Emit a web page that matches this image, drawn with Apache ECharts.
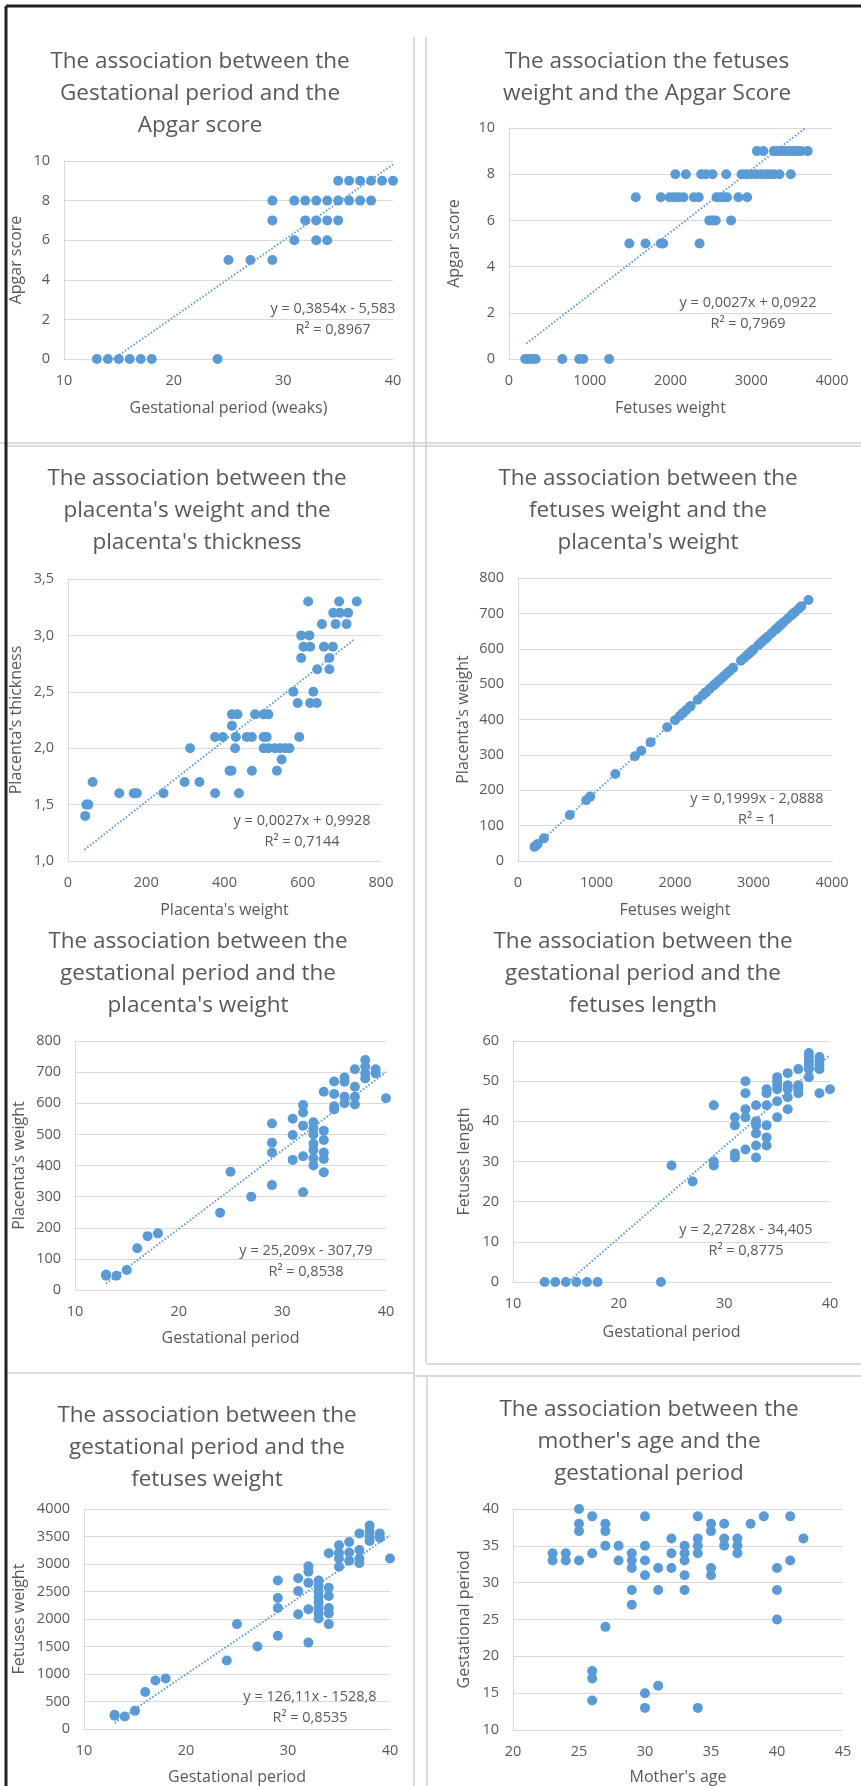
<!DOCTYPE html>
<html>
<head>
<meta charset="utf-8">
<script src="https://cdn.jsdelivr.net/npm/echarts@6.0.0/dist/echarts.min.js"></script>
<style>
  html, body { margin: 0; padding: 0; background: #fff; }
  #charts { width: 861px; height: 1786px; }
</style>
</head>
<body>
<div id="charts"></div>
<script>
// ---- data ----
// 1: gestational period vs Apgar score
const p1Gest  = [13, 14, 15, 16, 17, 18, 24, 25, 27, 29, 31, 33, 34, 29, 32, 33, 34, 35, 29, 31, 32, 33, 34, 35, 36, 37, 38, 35, 36, 37, 38, 39, 40];
const p1Apgar = [0, 0, 0, 0, 0, 0, 0, 5, 5, 5, 6, 6, 6, 7, 7, 7, 7, 7, 8, 8, 8, 8, 8, 8, 8, 8, 8, 9, 9, 9, 9, 9, 9];
const p1Trend = [[14.5, 0], [40, 9.83]];

// 2: fetus weight vs Apgar score
const p2Weight = [200, 240, 280, 330, 660, 870, 920, 1240,
  1490, 1690, 1880, 1910, 2360,
  2480, 2520, 2560, 2750,
  1570, 1880, 1990, 2050, 2100, 2160, 2290, 2350, 2570, 2620, 2660, 2700, 2840, 2950,
  2060, 2190, 2380, 2440, 2520, 2690, 2880, 2940, 3000, 3060, 3120, 3180, 3230, 3280, 3350, 3490,
  3070, 3150, 3280, 3330, 3380, 3430, 3480, 3530, 3580, 3620, 3700];
const p2Apgar = [0, 0, 0, 0, 0, 0, 0, 0,
  5, 5, 5, 5, 5,
  6, 6, 6, 6,
  7, 7, 7, 7, 7, 7, 7, 7, 7, 7, 7, 7, 7, 7,
  8, 8, 8, 8, 8, 8, 8, 8, 8, 8, 8, 8, 8, 8, 8, 8,
  9, 9, 9, 9, 9, 9, 9, 9, 9, 9, 9];
const p2Trend = [[215, 0.67], [3660, 9.97]];

// 3: placenta weight vs placenta thickness
const p3Weight = [47, 52, 44, 63, 131, 168, 176, 244, 298, 312, 336, 376, 376, 396, 413, 418, 419, 419, 433, 429, 427, 437,
  457, 470, 470, 478, 500, 508, 500, 512, 500, 512, 529, 542, 555, 534, 546, 566, 576, 587, 591, 596,
  596, 617, 602, 619, 614, 619, 636, 627, 637, 649, 654, 677, 668, 668, 678, 695, 716, 684, 712, 693, 738];
const p3Thick = [1.5, 1.5, 1.4, 1.7, 1.6, 1.6, 1.6, 1.6, 1.7, 2.0, 1.7, 1.6, 2.1, 2.1, 1.8, 1.8, 2.2, 2.3, 2.3, 2.1, 2.0, 1.6,
  2.1, 2.1, 1.8, 2.3, 2.1, 2.1, 2.0, 2.0, 2.3, 2.3, 2.0, 2.0, 2.0, 1.8, 1.9, 2.0, 2.5, 2.4, 2.1, 2.8,
  3.0, 3.0, 2.9, 2.9, 3.3, 2.4, 2.4, 2.5, 2.7, 3.1, 2.9, 2.9, 2.8, 2.7, 3.2, 3.2, 3.2, 3.1, 3.1, 3.3, 3.3];
const p3Trend = [[42, 1.10], [730, 2.96]];

// 4: fetus weight vs placenta weight
const p4Fetus = [210, 230, 250, 330, 660, 870, 920, 1240, 1490, 1570, 1690, 1900, 2000, 2060, 2100, 2140, 2190, 2200,
  2290, 2350, 2380, 2400, 2440, 2480, 2500, 2520, 2550, 2580, 2620, 2660, 2700, 2740, 2840, 2880, 2920, 2950,
  2980, 3000, 3060, 3090, 3120, 3150, 3180, 3230, 3280, 3300, 3330, 3350, 3380, 3430, 3480, 3500, 3530, 3580, 3610, 3700];
const p4Placenta = [40, 44, 48, 64, 130, 172, 182, 246, 296, 312, 336, 378, 398, 410, 418, 426, 436, 438,
  456, 468, 474, 478, 486, 494, 498, 502, 508, 514, 522, 530, 538, 546, 566, 574, 582, 588,
  594, 598, 610, 616, 622, 628, 634, 644, 654, 658, 664, 668, 674, 684, 694, 698, 704, 714, 720, 738];
const p4Trend = [[210, 40], [3700, 737]];

// 5: gestational period vs placenta weight
const p5Gest = [13, 13, 14, 15, 16, 17, 18, 24, 25, 27, 29, 29, 29, 29, 31, 31, 31, 32, 32, 32, 32, 32,
  33, 33, 33, 33, 33, 33, 33, 34, 34, 34, 34, 34, 34, 35, 35, 35, 35, 36, 36, 36, 36,
  37, 37, 37, 37, 38, 38, 38, 38, 39, 39, 40];
const p5Placenta = [50, 46, 46, 64, 134, 173, 182, 248, 380, 300, 535, 473, 442, 337, 550, 498, 418, 594, 570, 528, 430, 314,
  539, 519, 500, 470, 450, 423, 400, 637, 512, 482, 442, 421, 378, 670, 630, 590, 580, 683, 669, 621, 600,
  709, 653, 621, 596, 739, 717, 696, 680, 709, 696, 616];
const p5Trend = [[13, 20], [40, 700]];

// 6: gestational period vs fetus length
const p6Gest = [13, 14, 15, 16, 17, 18, 24, 25, 27, 29, 29, 29, 31, 31, 31, 31, 32, 32, 32, 32, 32,
  33, 33, 33, 33, 33, 33, 34, 34, 34, 34, 34, 34, 35, 35, 35, 35, 35, 35, 36, 36, 36, 36, 36,
  37, 37, 37, 37, 38, 38, 38, 38, 38, 38, 39, 39, 39, 39, 39, 40];
const p6Length = [0, 0, 0, 0, 0, 0, 0, 29, 25, 44, 30, 29, 41, 39, 32, 31, 50, 47, 43, 41, 33,
  44, 40, 39, 37, 34, 31, 48, 47, 44, 39, 36, 34, 51, 50, 49, 48, 45, 41, 52, 49, 48, 46, 43,
  53, 49, 48, 47, 57, 56, 55, 54, 53, 51, 56, 55, 54, 53, 47, 48];
const p6Trend = [[15.2, 0], [40, 56.5]];

// 7: gestational period vs fetus weight
const p7Gest = [13, 13, 14, 15, 16, 17, 18, 24, 25, 27, 29, 29, 29, 29, 31, 31, 31, 32, 32, 32, 32, 32,
  33, 33, 33, 33, 33, 33, 33, 33, 34, 34, 34, 34, 34, 34, 35, 35, 35, 35, 36, 36, 36,
  37, 37, 37, 37, 38, 38, 38, 38, 39, 39, 40];
const p7Weight = [258, 240, 228, 330, 672, 882, 918, 1247, 1907, 1499, 2699, 2381, 2201, 1697, 2741, 2507, 2087, 2957, 2861, 2657, 2177, 1571,
  2699, 2600, 2500, 2400, 2300, 2200, 2100, 2009, 3196, 2567, 2417, 2201, 2099, 1907, 3340, 3200, 3100, 2950, 3400, 3208, 3058,
  3556, 3256, 3100, 3016, 3700, 3600, 3500, 3420, 3556, 3478, 3100];
const p7Trend = [[13, 111], [40, 3516]];

// 8: mother's age vs gestational period
const p8Age = [23, 23, 24, 24, 25, 25, 25, 25, 26, 26, 26, 26, 26, 27, 27, 27, 27, 28, 28,
  29, 29, 29, 29, 29, 30, 30, 30, 30, 30, 30, 31, 31, 31, 32, 32, 32, 33, 33, 33, 33, 33,
  34, 34, 34, 34, 34, 35, 35, 35, 35, 36, 36, 36, 37, 37, 37, 38, 39, 40, 40, 40, 41, 41, 42];
const p8Gest = [34, 33, 34, 33, 40, 38, 37, 33, 39, 34, 18, 17, 14, 38, 37, 35, 24, 35, 33,
  34, 33, 32, 29, 27, 39, 35, 33, 31, 15, 13, 32, 29, 16, 36, 34, 32, 35, 34, 33, 31, 29,
  39, 36, 35, 34, 13, 38, 37, 32, 31, 38, 36, 35, 36, 35, 34, 38, 39, 32, 29, 25, 39, 33, 36];

// axis ranges [min, max, interval]
const p1XRange = [10, 40, 10],  p1YRange = [0, 10, 2];
const p2XRange = [0, 4000, 1000], p2YRange = [0, 10, 2];
const p3XRange = [0, 800, 200], p3YRange = [1, 3.5, 0.5];
const p4XRange = [0, 4000, 1000], p4YRange = [0, 800, 100];
const p5XRange = [10, 40, 10],  p5YRange = [0, 800, 100];
const p6XRange = [10, 40, 10],  p6YRange = [0, 60, 10];
const p7XRange = [10, 40, 10],  p7YRange = [0, 4000, 500];
const p8XRange = [20, 45, 5],   p8YRange = [10, 40, 5];

// ---- layout ----
const FONT = '"Open Sans", Lato, sans-serif';
const TEXT = '#595959';
const LINE = '#d9d9d9';
const BLUE = '#5b9bd5';

const panels = [
  { grid: [64, 161, 329, 198], xr: p1XRange, yr: p1YRange, xs: p1Gest, ys: p1Apgar, trend: p1Trend,
    xName: 'Gestational period (weaks)', yName: 'Apgar score', xGap: 41, yGap: 40,
    title: 'The association between the\nGestational period and the\nApgar score', tx: 200, ty: 60,
    eq: 'y = 0,3854x - 5,583\nR² = 0,8967', ex: 333, ey: 309 },
  { grid: [509, 128, 323, 231], xr: p2XRange, yr: p2YRange, xs: p2Weight, ys: p2Apgar, trend: p2Trend,
    xName: 'Fetuses weight', yName: 'Apgar score', xGap: 41, yGap: 47,
    title: 'The association the fetuses\nweight and the Apgar Score', tx: 647, ty: 60,
    eq: 'y = 0,0027x + 0,0922\nR² = 0,7969', ex: 748, ey: 303 },
  { grid: [68, 579, 313, 282], xr: p3XRange, yr: p3YRange, xs: p3Weight, ys: p3Thick, trend: p3Trend,
    xName: "Placenta's weight", yName: "Placenta's thickness", xGap: 41, yGap: 44, comma: true,
    title: "The association between the\nplacenta's weight and the\nplacenta's thickness", tx: 197, ty: 477,
    eq: 'y = 0,0027x + 0,9928\nR² = 0,7144', ex: 302, ey: 821 },
  { grid: [518, 578, 314, 283], xr: p4XRange, yr: p4YRange, xs: p4Fetus, ys: p4Placenta, trend: p4Trend,
    xName: 'Fetuses weight', yName: "Placenta's weight", xGap: 41, yGap: 47,
    title: "The association between the\nfetuses weight and the\nplacenta's weight", tx: 648, ty: 477,
    eq: 'y = 0,1999x - 2,0888\nR² = 1', ex: 757, ey: 799 },
  { grid: [75, 1041, 311, 249], xr: p5XRange, yr: p5YRange, xs: p5Gest, ys: p5Placenta, trend: p5Trend,
    xName: 'Gestational period', yName: "Placenta's weight", xGap: 40, yGap: 48,
    title: "The association between the\ngestational period and the\nplacenta's weight", tx: 198, ty: 940,
    eq: 'y = 25,209x - 307,79\nR² = 0,8538', ex: 306, ey: 1251 },
  { grid: [513, 1041, 317, 241], xr: p6XRange, yr: p6YRange, xs: p6Gest, ys: p6Length, trend: p6Trend,
    xName: 'Gestational period', yName: 'Fetuses length', xGap: 42, yGap: 41,
    title: 'The association between the\ngestational period and the\nfetuses length', tx: 643, ty: 940,
    eq: 'y = 2,2728x - 34,405\nR² = 0,8775', ex: 746, ey: 1230 },
  { grid: [84, 1509, 306, 223], xr: p7XRange, yr: p7YRange, xs: p7Gest, ys: p7Weight, trend: p7Trend,
    xName: 'Gestational period', yName: 'Fetuses weight', xGap: 40, yGap: 57,
    title: 'The association between the\ngestational period and the\nfetuses weight', tx: 207, ty: 1414,
    eq: 'y = 126,11x - 1528,8\nR² = 0,8535', ex: 310, ey: 1697 },
  { grid: [513, 1509, 330, 223], xr: p8XRange, yr: p8YRange, xs: p8Age, ys: p8Gest, trend: null,
    xName: "Mother's age", yName: 'Gestational period', xGap: 39, yGap: 41,
    title: "The association between the\nmother's age and the\ngestational period", tx: 649, ty: 1408 }
];

const zip = (a, b) => a.map((v, i) => [v, b[i]]);

const grids = [], xAxes = [], yAxes = [], series = [], graphics = [];

panels.forEach((p, i) => {
  grids.push({ left: p.grid[0], top: p.grid[1], width: p.grid[2], height: p.grid[3] });
  xAxes.push({
    type: 'value', gridIndex: i, min: p.xr[0], max: p.xr[1], interval: p.xr[2],
    name: p.xName, nameLocation: 'middle', nameGap: p.xGap,
    nameTextStyle: { color: TEXT, fontSize: 16, fontFamily: FONT },
    axisLine: { show: true, lineStyle: { color: LINE, width: 1 } },
    axisTick: { show: false },
    axisLabel: { color: TEXT, fontSize: 14.5, fontFamily: FONT, margin: 14, formatter: (v) => String(v) },
    splitLine: { show: false }
  });
  yAxes.push({
    type: 'value', gridIndex: i, min: p.yr[0], max: p.yr[1], interval: p.yr[2],
    name: p.yName, nameLocation: 'middle', nameGap: p.yGap,
    nameTextStyle: { color: TEXT, fontSize: 16, fontFamily: FONT },
    axisLine: { show: true, lineStyle: { color: LINE, width: 1 } },
    axisTick: { show: false },
    axisLabel: {
      color: TEXT, fontSize: 14.5, fontFamily: FONT, margin: 14,
      formatter: p.comma ? (v) => v.toFixed(1).replace('.', ',') : (v) => String(v)
    },
    splitLine: { show: true, lineStyle: { color: LINE, width: 1 } }
  });
  if (p.trend) {
    series.push({
      type: 'line', xAxisIndex: i, yAxisIndex: i, data: p.trend,
      symbol: 'none', silent: true, z: 1,
      lineStyle: { color: BLUE, width: 2, type: [1.5, 2] }
    });
  }
  series.push({
    type: 'scatter', xAxisIndex: i, yAxisIndex: i, data: zip(p.xs, p.ys),
    symbolSize: 10, z: 2,
    itemStyle: { color: BLUE, opacity: 1 }
  });
  graphics.push({
    type: 'text', x: p.tx, y: p.ty - 14,
    style: { text: p.title, font: '22.5px ' + FONT, fill: TEXT, align: 'center', verticalAlign: 'top', lineHeight: 32 }
  });
  if (p.eq) {
    graphics.push({
      type: 'text', x: p.ex, y: p.ey - 10.5, z: 10,
      style: { text: p.eq, font: '14.5px ' + FONT, fill: TEXT, align: 'center', verticalAlign: 'top', lineHeight: 21 }
    });
  }
});

// panel frames of the collage
const gray = (x1, y1, x2, y2) => ({
  type: 'line', shape: { x1, y1, x2, y2 }, style: { stroke: '#cfcfcf', lineWidth: 1.5 }
});
graphics.push(
  gray(414, 37, 414, 1786), gray(426, 37, 426, 1363),
  gray(0, 443, 861, 443), gray(6, 446, 861, 446),
  gray(426, 1364, 861, 1364), gray(6, 1373, 414, 1373), gray(414, 1376, 861, 1376),
  gray(427, 1377, 427, 1786),
  { type: 'line', shape: { x1: 6, y1: 6, x2: 861, y2: 6 }, style: { stroke: '#222', lineWidth: 3 } },
  { type: 'line', shape: { x1: 6, y1: 6, x2: 6, y2: 1786 }, style: { stroke: '#222', lineWidth: 3 } }
);

const chart = echarts.init(document.getElementById('charts'));
chart.setOption({
  animation: false,
  backgroundColor: '#fff',
  grid: grids,
  xAxis: xAxes,
  yAxis: yAxes,
  series: series,
  graphic: graphics
});

window.addEventListener('resize', function () {
  chart.resize();
});
</script>
</body>
</html>
